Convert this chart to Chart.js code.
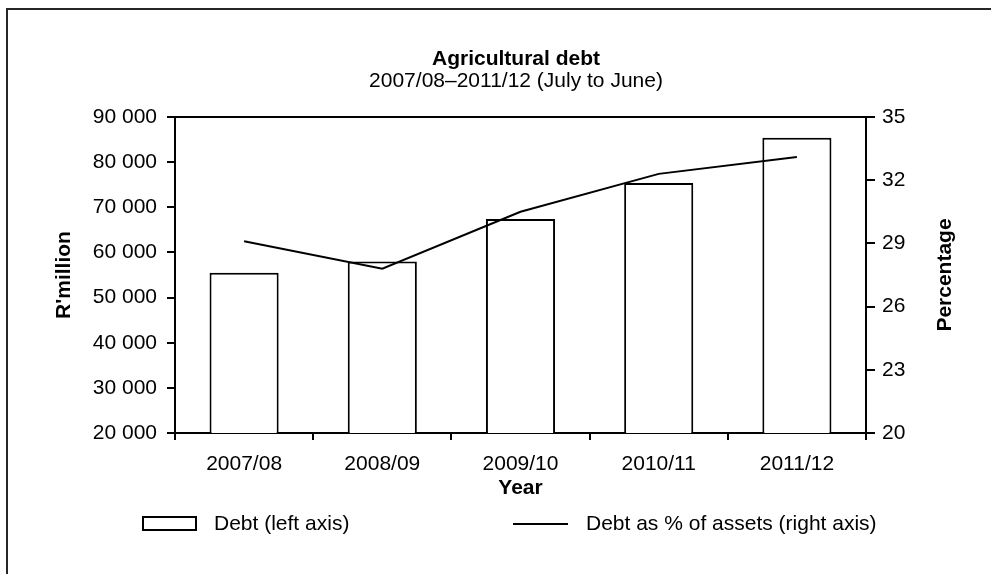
<!DOCTYPE html>
<html lang="en">
<head>
  <meta charset="UTF-8">
  <title>Agricultural debt</title>
  <script src="https://cdn.jsdelivr.net/npm/chart.js"></script>
  <style>
    body { margin: 0; background: #fff; overflow: hidden; }
    .wrap { position: relative; width: 991px; height: 574px; overflow: hidden; }
    .frame {
      position: absolute; left: 6px; top: 8px;
      width: 1400px; height: 900px;
      border: 2px solid #262626;
      pointer-events: none;
    }
    #debtChart { position: absolute; left: 0; top: 0; }
  </style>
</head>
<body>
<div class="wrap">
  <div class="frame"></div>
  <canvas id="debtChart" width="991" height="574"></canvas>
</div>

<script>
  // data
  const years = ['2007/08', '2008/09', '2009/10', '2010/11', '2011/12'];
  const debt = [55500, 58000, 67400, 75400, 85400];          // R'million, left axis
  const debtPctAssets = [29.1, 27.8, 30.5, 32.3, 33.1];      // %, right axis
  const leftAxisTicks = [20000, 90000, 10000];               // min, max, step
  const rightAxisTicks = [20, 35, 3];
  const seriesLabels = ['Debt (left axis)', 'Debt as % of assets (right axis)'];

  const FONT = '"Liberation Sans", Arial, Helvetica, sans-serif';
  Chart.defaults.font.family = FONT;
  Chart.defaults.font.size = 21;
  Chart.defaults.color = '#000';

  // thousands with a space: 90 000
  function spaced(v) {
    return String(v).replace(/\B(?=(\d{3})+(?!\d))/g, ' ');
  }

  // top border of the plot box, right axis title, and the legend row
  const extras = {
    id: 'extras',
    afterDraw(chart) {
      const { ctx, chartArea } = chart;
      const ds = chart.data.datasets;
      ctx.save();
      ctx.strokeStyle = '#000';
      ctx.lineWidth = 2;
      ctx.beginPath();
      ctx.moveTo(chartArea.left, Math.round(chartArea.top));
      ctx.lineTo(chartArea.right, Math.round(chartArea.top));
      ctx.stroke();

      ctx.fillStyle = '#000';
      ctx.font = 'bold 21px ' + FONT;
      ctx.textAlign = 'center';
      ctx.textBaseline = 'middle';
      ctx.translate(chartArea.right + 79, (chartArea.top + chartArea.bottom) / 2);
      ctx.rotate(-Math.PI / 2);
      ctx.fillText('Percentage', 0, 0);
      ctx.restore();

      // legend
      const ly = chartArea.bottom + 91;
      const x0 = chartArea.left;
      ctx.save();
      ctx.font = '21px ' + FONT;
      ctx.textAlign = 'left';
      ctx.textBaseline = 'middle';
      ctx.fillStyle = ds[0].backgroundColor;
      ctx.strokeStyle = ds[0].borderColor;
      ctx.lineWidth = 2;
      ctx.fillRect(x0 - 32, ly - 7, 53, 13);
      ctx.strokeRect(x0 - 32, ly - 7, 53, 13);
      ctx.fillStyle = '#000';
      ctx.fillText(ds[0].label, x0 + 39, ly);

      ctx.strokeStyle = ds[1].borderColor;
      ctx.beginPath();
      ctx.moveTo(x0 + 338, ly);
      ctx.lineTo(x0 + 393, ly);
      ctx.stroke();
      ctx.fillText(ds[1].label, x0 + 411, ly);
      ctx.restore();
    }
  };

  const axisLine = { color: '#000', width: 2 };

  new Chart(document.getElementById('debtChart'), {
    type: 'bar',
    data: {
      labels: years,
      datasets: [
        {
          label: seriesLabels[0],
          data: debt,
          yAxisID: 'y',
          backgroundColor: '#fff',
          borderColor: '#000',
          borderWidth: 2,
          barPercentage: 0.5,
          categoryPercentage: 1,
          order: 1
        },
        {
          type: 'line',
          label: seriesLabels[1],
          data: debtPctAssets,
          yAxisID: 'y1',
          borderColor: '#000',
          backgroundColor: '#000',
          borderWidth: 2,
          pointRadius: 0,
          tension: 0,
          fill: false,
          order: 0
        }
      ]
    },
    options: {
      responsive: false,
      animation: false,
      layout: { padding: { left: 41, right: 0, top: 0, bottom: 71 } },
      plugins: {
        legend: { display: false },
        tooltip: { enabled: false },
        title: {
          display: true,
          text: 'Agricultural debt',
          color: '#000',
          font: { size: 21, weight: 'bold', lineHeight: 1 },
          padding: { top: 49, bottom: 0 }
        },
        subtitle: {
          display: true,
          text: '2007/08\u20132011/12 (July to June)',
          color: '#000',
          font: { size: 21, lineHeight: 1 },
          padding: { top: 1, bottom: 25 }
        }
      },
      scales: {
        x: {
          z: 1,
          offset: true,
          grid: { offset: true, drawOnChartArea: false, tickLength: 7, lineWidth: 2, color: '#000' },
          border: axisLine,
          ticks: { color: '#000', padding: 12 },
          title: {
            display: true, text: 'Year', color: '#000',
            font: { size: 21, weight: 'bold' },
            padding: { top: 0, bottom: 2 }
          },
          afterFit: s => { s.height = 70; }
        },
        y: {
          position: 'left',
          min: leftAxisTicks[0],
          max: leftAxisTicks[1],
          ticks: { stepSize: leftAxisTicks[2], padding: 10, color: '#000', callback: v => spaced(v) },
          grid: { drawOnChartArea: false, tickLength: 8, lineWidth: 2, color: '#000' },
          border: axisLine,
          title: {
            display: true, text: "R'million", color: '#000',
            font: { size: 21, weight: 'bold', lineHeight: 1 },
            padding: { top: 13, bottom: 0 }
          },
          afterFit: s => { s.width = 134; }
        },
        y1: {
          position: 'right',
          min: rightAxisTicks[0],
          max: rightAxisTicks[1],
          ticks: { stepSize: rightAxisTicks[2], padding: 7, color: '#000' },
          grid: { drawOnChartArea: false, tickLength: 9, lineWidth: 2, color: '#000' },
          border: axisLine,
          afterFit: s => { s.width = 125; }
        }
      }
    },
    plugins: [extras]
  });
</script>
</body>
</html>
